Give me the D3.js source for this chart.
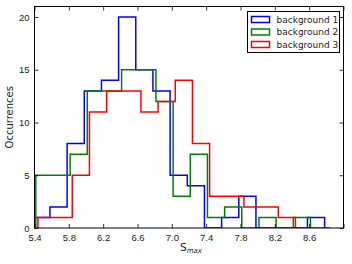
<!DOCTYPE html>
<html>
<head>
<meta charset="utf-8">
<script src="https://cdn.jsdelivr.net/npm/d3@7"></script>
<style>
  body { margin: 0; background: #fff; }
  svg { display: block; font-family: "DejaVu Sans", sans-serif; }
</style>
</head>
<body>
<svg id="chart" width="352" height="264"></svg>
<script>
// histogram bin edges and counts
const blueEdges = [5.38, 5.58, 5.78, 5.98, 6.18, 6.38, 6.58, 6.78, 6.98, 7.18, 7.38, 7.58, 7.78, 7.98, 8.18, 8.38, 8.58, 8.78];
const blueCounts = [1, 2, 8, 13, 14, 20, 15, 13, 5, 4, 0, 1, 3, 0, 0, 0, 1];

const greenEdges = [5.415, 5.615, 5.815, 6.015, 6.215, 6.415, 6.615, 6.815, 7.015, 7.215, 7.415, 7.615, 7.815, 8.015, 8.215, 8.415, 8.615];
const greenCounts = [5, 5, 7, 13, 13, 15, 15, 12, 3, 7, 1, 2, 0, 1, 0, 1];

const redEdges = [5.44, 5.64, 5.84, 6.04, 6.24, 6.44, 6.64, 6.84, 7.04, 7.24, 7.44, 7.64, 7.84, 8.04, 8.24, 8.44, 8.64, 8.84];
const redCounts = [1, 1, 5, 11, 13, 13, 11, 12, 14, 8, 3, 3, 2, 2, 1, 0, 0];

const seriesNames = ["background 1", "background 2", "background 3"];
const xTicks = [5.4, 5.8, 6.2, 6.6, 7.0, 7.4, 7.8, 8.2, 8.6, 9.0];
const yTicks = [0, 5, 10, 15, 20];

const series = [
  { name: seriesNames[0], edges: blueEdges, counts: blueCounts, color: "#0000ff" },
  { name: seriesNames[1], edges: greenEdges, counts: greenCounts, color: "#008000" },
  { name: seriesNames[2], edges: redEdges, counts: redCounts, color: "#ff0000" }
];

const plotLeft = 34.5, plotRight = 343.5, plotTop = 6.5, plotBottom = 228;

const x = d3.scaleLinear().domain([5.4, 9.0]).range([plotLeft, plotRight]);
const y = d3.scaleLinear().domain([0, 21]).range([plotBottom, plotTop]);

const svg = d3.select("#chart");

svg.append("clipPath").attr("id", "plotClip")
  .append("rect")
  .attr("x", plotLeft).attr("y", plotTop)
  .attr("width", plotRight - plotLeft).attr("height", plotBottom - plotTop);

// step outlines
const line = d3.line().x(d => x(d[0])).y(d => y(d[1]));

series.forEach(s => {
  const pts = [[s.edges[0], 0]];
  s.counts.forEach((c, i) => {
    pts.push([s.edges[i], c]);
    pts.push([s.edges[i + 1], c]);
  });
  pts.push([s.edges[s.edges.length - 1], 0]);
  svg.append("path")
    .attr("clip-path", "url(#plotClip)")
    .attr("d", line(pts))
    .attr("fill", "none")
    .attr("stroke", s.color)
    .attr("stroke-width", 1.5)
    .attr("stroke-linejoin", "miter");
});

// axes, ticks inward on all four sides
const fmt = d3.format(".1f");
const bottomAxis = d3.axisBottom(x).tickValues(xTicks).tickSizeInner(-4).tickSizeOuter(0).tickPadding(6)
  .tickFormat(d => d === 9.0 ? "" : fmt(d));
const topAxis = d3.axisTop(x).tickValues(xTicks).tickSizeInner(-4).tickSizeOuter(0).tickFormat("");
const leftAxis = d3.axisLeft(y).tickValues(yTicks).tickSizeInner(-4).tickSizeOuter(0).tickPadding(5);
const rightAxis = d3.axisRight(y).tickValues(yTicks).tickSizeInner(-4).tickSizeOuter(0).tickFormat("");

function styleAxis(g) {
  g.select(".domain").remove();
  g.selectAll("line").attr("stroke", "#000").attr("stroke-width", 0.8);
  g.selectAll("text").attr("fill", "#222").style("font-size", "9.5px");
}

svg.append("g").attr("transform", `translate(0,${plotBottom})`).call(bottomAxis).call(styleAxis);
svg.append("g").attr("transform", `translate(0,${plotTop})`).call(topAxis).call(styleAxis);
svg.append("g").attr("transform", `translate(${plotLeft},0)`).call(leftAxis).call(styleAxis);
svg.append("g").attr("transform", `translate(${plotRight},0)`).call(rightAxis).call(styleAxis);

svg.append("rect")
  .attr("x", plotLeft).attr("y", plotTop)
  .attr("width", plotRight - plotLeft).attr("height", plotBottom - plotTop)
  .attr("fill", "none").attr("stroke", "#000").attr("stroke-width", 1);

// axis labels
svg.append("text")
  .attr("transform", `translate(13,${(plotTop + plotBottom) / 2}) rotate(-90)`)
  .attr("text-anchor", "middle")
  .style("font-size", "10px")
  .attr("fill", "#222")
  .text("Occurrences");

const xl = svg.append("text")
  .attr("x", 180).attr("y", 251)
  .style("font-size", "10.5px")
  .attr("fill", "#222");
xl.append("tspan").text("S");
xl.append("tspan").attr("dy", 2).style("font-size", "7px").style("font-style", "italic").text("max");

// legend
const legend = svg.append("g");
legend.append("rect")
  .attr("x", 247.5).attr("y", 11.5).attr("width", 92).attr("height", 41)
  .attr("fill", "#fff").attr("stroke", "#000").attr("stroke-width", 1);

series.forEach((s, i) => {
  const cy = 19.5 + i * 12.5;
  legend.append("rect")
    .attr("x", 251.5).attr("y", cy - 3).attr("width", 18).attr("height", 6)
    .attr("fill", "#fff").attr("stroke", s.color).attr("stroke-width", 1.5);
  legend.append("text")
    .attr("x", 276.5).attr("y", cy + 3.2)
    .style("font-size", "9px")
    .attr("fill", "#222")
    .text(s.name);
});
</script>
</body>
</html>
